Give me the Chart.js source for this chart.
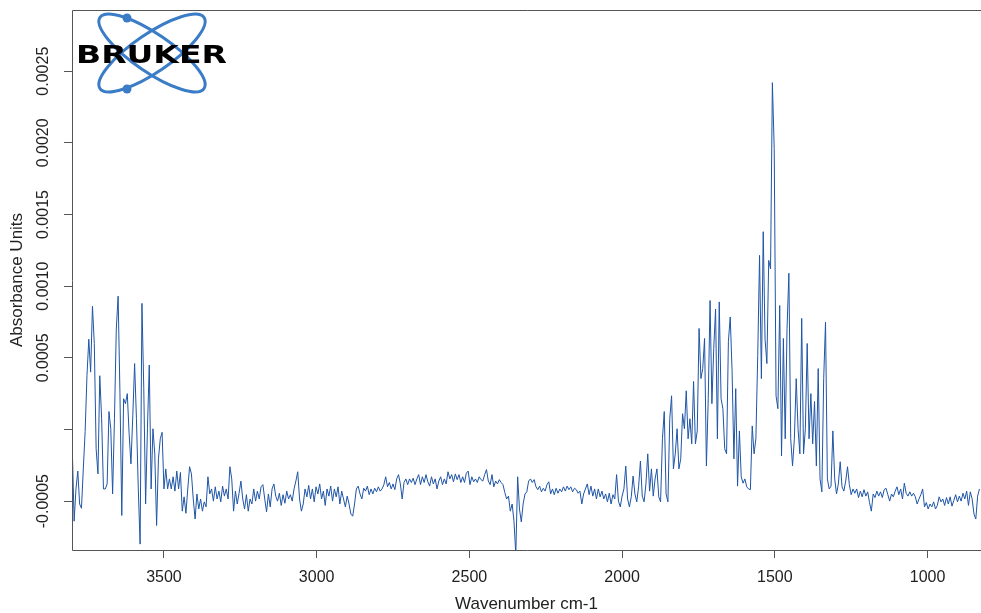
<!DOCTYPE html>
<html>
<head>
<meta charset="utf-8">
<script src="https://cdn.jsdelivr.net/npm/chart.js@4/dist/chart.umd.min.js"></script>
<style>
html,body{margin:0;padding:0;background:#fff;}
canvas{display:block;}
</style>
</head>
<body>
<canvas id="c" width="981" height="613"></canvas>
<script>
// Wavenumbers (cm-1)
const wavenumber = [
3800,3794,3788,3782,3776,3770,3764,3758,3752,3746,3740,3734,3728,3722,3716,3710,3704,3698,3692,3686,
3680,3674,3668,3662,3656,3650,3644,3638,3632,3626,3620,3614,3608,3602,3596,3590,3584,3578,3572,3566,
3560,3554,3548,3542,3536,3530,3524,3518,3512,3506,3500,3494,3488,3482,3476,3470,3464,3458,3452,3446,
3440,3434,3428,3422,3416,3410,3404,3398,3392,3386,3380,3374,3368,3362,3356,3350,3344,3338,3332,3326,
3320,3314,3308,3302,3296,3290,3284,3278,3272,3266,3260,3254,3248,3242,3236,3230,3224,3218,3212,3206,
3200,3194,3188,3182,3176,3170,3164,3158,3152,3146,3140,3134,3128,3122,3116,3110,3104,3098,3092,3086,
3080,3074,3068,3062,3056,3050,3044,3038,3032,3026,3020,3014,3008,3002,2996,2990,2984,2978,2972,2966,
2960,2954,2948,2942,2936,2930,2924,2918,2912,2906,2900,2894,2888,2882,2876,2870,2864,2858,2852,2846,
2840,2834,2828,2822,2816,2810,2804,2798,2792,2786,2780,2774,2768,2762,2756,2750,2744,2738,2732,2726,
2720,2714,2708,2702,2696,2690,2684,2678,2672,2666,2660,2654,2648,2642,2636,2630,2624,2618,2612,2606,
2600,2594,2588,2582,2576,2570,2564,2558,2552,2546,2540,2534,2528,2522,2516,2510,2504,2498,2492,2486,
2480,2474,2468,2462,2456,2450,2444,2438,2432,2426,2420,2414,2408,2402,2396,2390,2384,2378,2372,2366,
2360,2354,2348,2342,2336,2330,2324,2318,2312,2306,2300,2294,2288,2282,2276,2270,2264,2258,2252,2246,
2240,2234,2228,2222,2216,2210,2204,2198,2192,2186,2180,2174,2168,2162,2156,2150,2144,2138,2132,2126,
2120,2114,2108,2102,2096,2090,2084,2078,2072,2066,2060,2054,2048,2042,2036,2030,2024,2018,2012,2006,
2000,1994,1988,1982,1976,1970,1964,1958,1952,1946,1940,1934,1928,1922,1916,1910,1904,1898,1892,1886,
1880,1874,1868,1862,1856,1850,1844,1838,1832,1826,1820,1814,1808,1802,1796,1790,1784,1778,1772,1766,
1760,1754,1748,1742,1736,1730,1724,1718,1712,1706,1700,1694,1688,1682,1676,1670,1664,1658,1652,1646,
1640,1634,1628,1622,1616,1610,1604,1598,1592,1586,1580,1574,1568,1562,1556,1550,1544,1538,1532,1526,
1520,1514,1508,1502,1496,1490,1484,1478,1472,1466,1460,1454,1448,1442,1436,1430,1424,1418,1412,1406,
1400,1394,1388,1382,1376,1370,1364,1358,1352,1346,1340,1334,1328,1322,1316,1310,1304,1298,1292,1286,
1280,1274,1268,1262,1256,1250,1244,1238,1232,1226,1220,1214,1208,1202,1196,1190,1184,1178,1172,1166,
1160,1154,1148,1142,1136,1130,1124,1118,1112,1106,1100,1094,1088,1082,1076,1070,1064,1058,1052,1046,
1040,1034,1028,1022,1016,1010,1004,998,992,986,980,974,968,962,956,950,944,938,932,926,
920,914,908,902,896,890,884,878,872,866,860,854,848,842,836,830
];

// Absorbance Units
const absorbance = [
-1.4e-4,-6.4e-4,-4.15e-4,-2.9e-4,-5.2e-4,-5.5e-4,-2.75e-4,-0.15e-4,3.75e-4,6.3e-4,4.0e-4,8.6e-4,6.0e-4,-1.35e-4,-3.1e-4,3.75e-4,0.75e-4,-4.15e-4,-4.15e-4,-3.8e-4,
1.25e-4,0.05e-4,-4.5e-4,0.75e-4,7.0e-4,9.3e-4,2.5e-4,-6.0e-4,2.15e-4,1.8e-4,2.5e-4,-0.3e-4,-2.4e-4,0.95e-4,4.6e-4,0.75e-4,-4.15e-4,-8.0e-4,8.8e-4,2.85e-4,
-5.2e-4,0.05e-4,4.5e-4,-4.15e-4,0.05e-4,-1.7e-4,-6.7e-4,-2.05e-4,-0.65e-4,-0.2e-4,-4.15e-4,-2.75e-4,-4.15e-4,-3.45e-4,-4.15e-4,-3.3e-4,-4.3e-4,-2.9e-4,-4.15e-4,-3.0e-4,
-5.7e-4,-4.7e-4,-5.85e-4,-4.15e-4,-2.6e-4,-3.1e-4,-4.85e-4,-6.25e-4,-4.5e-4,-5.55e-4,-4.85e-4,-5.7e-4,-5.05e-4,-5.4e-4,-3.3e-4,-4.5e-4,-4.15e-4,-5.0e-4,-4.0e-4,-4.85e-4,
-4.3e-4,-5.05e-4,-3.95e-4,-4.65e-4,-4.15e-4,-4.85e-4,-2.6e-4,-3.45e-4,-5.7e-4,-4.3e-4,-5.2e-4,-4.45e-4,-3.6e-4,-4.85e-4,-5.55e-4,-4.55e-4,-5.7e-4,-4.85e-4,-5.2e-4,-4.15e-4,
-5.0e-4,-4.3e-4,-4.85e-4,-4.0e-4,-3.85e-4,-4.85e-4,-5.75e-4,-4.5e-4,-5.4e-4,-4.15e-4,-3.8e-4,-4.65e-4,-5.0e-4,-4.45e-4,-5.3e-4,-4.55e-4,-5.15e-4,-4.3e-4,-4.85e-4,-4.55e-4,
-5.0e-4,-4.15e-4,-3.6e-4,-2.95e-4,-4.85e-4,-5.7e-4,-5.2e-4,-4.15e-4,-4.7e-4,-3.9e-4,-4.85e-4,-4.15e-4,-5.05e-4,-4.0e-4,-4.5e-4,-3.8e-4,-4.85e-4,-4.3e-4,-5.3e-4,-4.15e-4,
-4.65e-4,-3.95e-4,-5.0e-4,-4.15e-4,-4.7e-4,-4.0e-4,-5.2e-4,-4.3e-4,-4.85e-4,-5.4e-4,-4.65e-4,-5.2e-4,-5.9e-4,-6.05e-4,-5.2e-4,-4.15e-4,-3.95e-4,-4.5e-4,-4.85e-4,-4.1e-4,
-4.3e-4,-3.95e-4,-4.55e-4,-4.15e-4,-4.5e-4,-4.1e-4,-4.35e-4,-4.0e-4,-4.3e-4,-4.15e-4,-3.85e-4,-3.3e-4,-4.0e-4,-3.7e-4,-4.15e-4,-3.8e-4,-4.2e-4,-3.45e-4,-3.15e-4,-3.8e-4,
-4.85e-4,-3.7e-4,-3.45e-4,-3.85e-4,-3.45e-4,-3.7e-4,-3.4e-4,-3.85e-4,-3.45e-4,-3.15e-4,-3.85e-4,-3.3e-4,-3.7e-4,-3.15e-4,-3.65e-4,-3.95e-4,-3.3e-4,-3.8e-4,-3.45e-4,-4.15e-4,
-3.6e-4,-3.3e-4,-3.85e-4,-3.45e-4,-3.8e-4,-2.95e-4,-3.45e-4,-3.15e-4,-3.65e-4,-3.1e-4,-3.5e-4,-3.15e-4,-3.7e-4,-3.3e-4,-3.7e-4,-3.05e-4,-2.9e-4,-3.85e-4,-3.3e-4,-3.65e-4,
-3.45e-4,-3.7e-4,-3.3e-4,-3.5e-4,-3.6e-4,-3.15e-4,-2.8e-4,-3.6e-4,-3.85e-4,-3.15e-4,-4.0e-4,-3.6e-4,-3.8e-4,-3.5e-4,-3.7e-4,-3.85e-4,-4.4e-4,-4.85e-4,-4.65e-4,-5.7e-4,
-5.2e-4,-6.4e-4,-8.7e-4,-3.3e-4,-5.55e-4,-6.45e-4,-5.2e-4,-4.5e-4,-4.35e-4,-3.6e-4,-3.45e-4,-3.7e-4,-3.5e-4,-4.0e-4,-4.2e-4,-3.95e-4,-4.35e-4,-4.1e-4,-4.3e-4,-3.85e-4,
-3.65e-4,-4.5e-4,-4.15e-4,-4.55e-4,-4.1e-4,-4.45e-4,-4.15e-4,-4.35e-4,-4.0e-4,-4.3e-4,-3.95e-4,-4.2e-4,-4.0e-4,-4.35e-4,-4.1e-4,-4.2e-4,-4.45e-4,-4.3e-4,-5.2e-4,-4.5e-4,
-4.15e-4,-3.8e-4,-4.55e-4,-3.95e-4,-4.65e-4,-4.15e-4,-4.85e-4,-4.15e-4,-4.7e-4,-4.3e-4,-4.85e-4,-4.5e-4,-5.05e-4,-4.45e-4,-5.2e-4,-4.55e-4,-4.85e-4,-3.15e-4,-5.0e-4,-5.4e-4,
-4.65e-4,-4.15e-4,-2.55e-4,-4.85e-4,-5.4e-4,-4.7e-4,-3.25e-4,-4.5e-4,-5.05e-4,-4.0e-4,-2.2e-4,-4.65e-4,-5.05e-4,-3.8e-4,-1.7e-4,-4.3e-4,-2.75e-4,-4.65e-4,-3.45e-4,-2.75e-4,
-4.7e-4,-5.05e-4,-0.65e-4,1.25e-4,-4.5e-4,-5.05e-4,0.75e-4,2.35e-4,-2.75e-4,-1.7e-4,0.05e-4,-2.75e-4,-2.05e-4,1.1e-4,0.05e-4,2.7e-4,-0.65e-4,0.75e-4,-1.0e-4,3.35e-4,
-1.0e-4,-0.1e-4,7.05e-4,3.55e-4,4.25e-4,6.35e-4,-2.55e-4,2.15e-4,9.0e-4,1.8e-4,5.65e-4,8.4e-4,-0.65e-4,8.9e-4,2.15e-4,1.45e-4,-1.35e-4,-1.7e-4,6.15e-4,7.85e-4,
4.1e-4,-2.05e-4,2.85e-4,-3.95e-4,-0.1e-4,-3.3e-4,-3.75e-4,-3.45e-4,-4.0e-4,-4.15e-4,-4.2e-4,0.25e-4,-1.7e-4,-0.65e-4,5.15e-4,12.15e-4,3.55e-4,13.8e-4,6.3e-4,4.6e-4,
11.8e-4,11.2e-4,24.2e-4,19.6e-4,2.35e-4,1.45e-4,8.65e-4,-1.85e-4,6.35e-4,-0.65e-4,7.05e-4,10.9e-4,-0.65e-4,-2.55e-4,-0.65e-4,3.55e-4,0.05e-4,-1.7e-4,7.75e-4,-1.7e-4,
0.05e-4,6.0e-4,-0.65e-4,2.5e-4,-1.0e-4,1.95e-4,-2.55e-4,4.25e-4,-3.45e-4,-4.35e-4,3.55e-4,7.5e-4,-3.45e-4,-4.15e-4,-3.95e-4,-0.1e-4,-3.45e-4,-4.5e-4,-3.8e-4,-2.25e-4,
-4.0e-4,-4.3e-4,-3.6e-4,-2.6e-4,-3.85e-4,-4.55e-4,-4.15e-4,-4.45e-4,-4.15e-4,-4.75e-4,-4.3e-4,-4.7e-4,-4.2e-4,-4.65e-4,-4.35e-4,-5.1e-4,-5.7e-4,-4.5e-4,-4.75e-4,-4.3e-4,
-4.65e-4,-4.35e-4,-4.75e-4,-4.2e-4,-4.1e-4,-4.55e-4,-5.0e-4,-4.5e-4,-4.7e-4,-4.3e-4,-4.0e-4,-4.55e-4,-4.15e-4,-4.85e-4,-3.75e-4,-4.45e-4,-4.65e-4,-4.35e-4,-4.65e-4,-4.45e-4,
-4.7e-4,-5.2e-4,-4.85e-4,-4.55e-4,-4.15e-4,-5.4e-4,-5.1e-4,-5.55e-4,-5.2e-4,-5.4e-4,-5.05e-4,-5.55e-4,-5.3e-4,-4.7e-4,-5.05e-4,-4.85e-4,-5.3e-4,-4.75e-4,-5.2e-4,-4.7e-4,
-5.35e-4,-4.95e-4,-4.55e-4,-5.05e-4,-4.65e-4,-5.0e-4,-4.45e-4,-4.85e-4,-4.3e-4,-5.3e-4,-4.35e-4,-4.85e-4,-5.9e-4,-6.25e-4,-4.65e-4,-4.15e-4
];

// Axis ranges and tick values
const xRange = [825, 3801];
const yRange = [-0.000841, 0.002927];
const xTicks = [3500, 3000, 2500, 2000, 1500, 1000];
const yTicks = [-0.0005, 0, 0.0005, 0.001, 0.0015, 0.002, 0.0025];
const yTickLabels = ['-0.0005', '', '0.0005', '0.0010', '0.0015', '0.0020', '0.0025'];

const FONT = '"Liberation Sans", Arial, sans-serif';

const n = Math.min(wavenumber.length, absorbance.length);
const points = [];
for (let i = 0; i < n; i++) points.push({x: wavenumber[i], y: absorbance[i]});

const decor = {
  id: 'decor',
  afterDraw(chart) {
    const {ctx, chartArea: a, scales: {y}} = chart;
    ctx.save();
    // box frame (right side lies outside the picture)
    ctx.strokeStyle = '#555';
    ctx.lineWidth = 1;
    ctx.beginPath();
    ctx.moveTo(a.right + 1, a.top + 0.5);
    ctx.lineTo(a.left + 0.5, a.top + 0.5);
    ctx.lineTo(a.left + 0.5, a.bottom + 0.5);
    ctx.lineTo(a.right + 1, a.bottom + 0.5);
    ctx.stroke();
    // rotated y tick labels
    ctx.fillStyle = '#222';
    ctx.font = '16px ' + FONT;
    ctx.textAlign = 'center';
    ctx.textBaseline = 'middle';
    y.ticks.forEach(t => {
      const label = yTickLabels[yTicks.indexOf(t.value)];
      if (!label) return;
      const py = y.getPixelForValue(t.value);
      ctx.save();
      ctx.translate(44, py);
      ctx.rotate(-Math.PI / 2);
      ctx.fillText(label, 0, 0);
      ctx.restore();
    });
    // Bruker logo
    ctx.strokeStyle = '#3b7cc6';
    ctx.lineWidth = 3;
    [0.6, -0.6].forEach(r => {
      ctx.beginPath();
      ctx.ellipse(152, 53, 63, 19, r, 0, Math.PI * 2);
      ctx.stroke();
    });
    ctx.fillStyle = '#3b7cc6';
    [[127, 18], [127, 89]].forEach(([cx, cy]) => {
      ctx.beginPath();
      ctx.arc(cx, cy, 4.5, 0, Math.PI * 2);
      ctx.fill();
    });
    ctx.fillStyle = '#000';
    ctx.font = 'bold 25px "DejaVu Sans"';
    ctx.textAlign = 'left';
    ctx.textBaseline = 'alphabetic';
    ctx.translate(76, 63);
    ctx.scale(1.32, 1);
    ctx.fillText('BRUKER', 0, 0);
    ctx.restore();
  }
};

new Chart(document.getElementById('c'), {
  type: 'line',
  data: {
    datasets: [{
      data: points,
      borderColor: '#1f55a6',
      borderWidth: 1,
      pointRadius: 0,
      tension: 0,
      fill: false
    }]
  },
  options: {
    responsive: false,
    devicePixelRatio: 1,
    animation: false,
    events: [],
    layout: {autoPadding: false, padding: {top: 10, right: 0, left: 0, bottom: 0}},
    plugins: {legend: {display: false}, tooltip: {enabled: false}},
    scales: {
      x: {
        type: 'linear',
        reverse: true,
        min: xRange[0],
        max: xRange[1],
        afterBuildTicks: s => { s.ticks = xTicks.map(v => ({value: v})); },
        afterFit: s => { s.height = 63; },
        border: {display: false},
        grid: {drawOnChartArea: false, drawTicks: true, tickLength: 8, color: '#555'},
        ticks: {
          autoSkip: false,
          maxRotation: 0,
          padding: 10,
          color: '#222',
          font: {family: FONT, size: 16},
          callback: v => String(v)
        },
        title: {
          display: true,
          text: 'Wavenumber cm-1',
          color: '#222',
          font: {family: FONT, size: 17, lineHeight: 1},
          padding: {top: 0, bottom: 0.5}
        }
      },
      y: {
        type: 'linear',
        min: yRange[0],
        max: yRange[1],
        afterBuildTicks: s => { s.ticks = yTicks.map(v => ({value: v})); },
        afterFit: s => { s.width = 72; },
        border: {display: false},
        grid: {drawOnChartArea: false, drawTicks: true, tickLength: 8, color: '#555'},
        ticks: {display: false},
        title: {
          display: true,
          text: 'Absorbance Units',
          color: '#222',
          font: {family: FONT, size: 17, lineHeight: 1},
          padding: {top: 8.5, bottom: 0}
        }
      }
    }
  },
  plugins: [decor]
});
</script>
</body>
</html>
